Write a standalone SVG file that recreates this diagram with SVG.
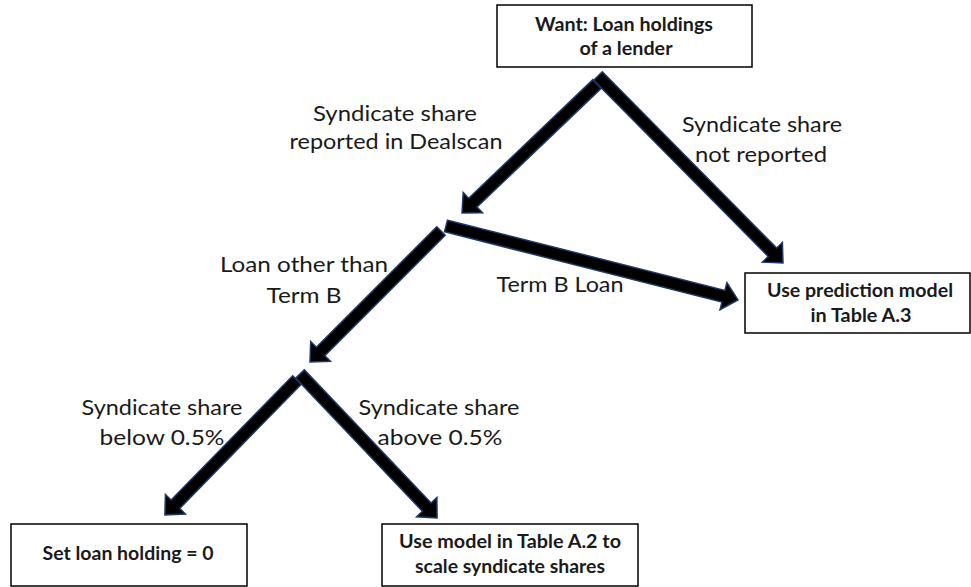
<svg xmlns="http://www.w3.org/2000/svg" width="971" height="587" viewBox="0 0 971 587">
<style>
.box{fill:#fff;stroke:#000;stroke-width:1.5}
.bt{font-family:Lato,"Liberation Sans",sans-serif;font-size:18px;font-weight:bold;fill:#1a1a1a;text-anchor:middle}
.lb{font-family:Lato,"Liberation Sans",sans-serif;font-size:21.5px;fill:#1a1a1a;text-anchor:middle}
.ar{fill:#000;stroke:#1f3a66;stroke-width:1.5;stroke-linejoin:miter}
</style>
<rect width="971" height="587" fill="#fff"/>
<g id="connectors">
  <path class="ar" transform="translate(597,84) rotate(136.3)" d="M0,-6 H171.7 V-14 L186.7,0 L171.7,14 V6 H0 Z"/>
  <path class="ar" transform="translate(598,76) rotate(45.3)" d="M0,-6 H248 V-14 L263,0 L248,14 V6 H0 Z"/>
  <path class="ar" transform="translate(441,231) rotate(135)" d="M0,-6 H170.3 V-14 L185.3,0 L170.3,14 V6 H0 Z"/>
  <path class="ar" transform="translate(446,226) rotate(14.2)" d="M0,-6 H286.2 V-14 L301.2,0 L286.2,14 V6 H0 Z"/>
  <path class="ar" transform="translate(297,380) rotate(134.4)" d="M0,-6 H173.8 V-14 L188.8,0 L173.8,14 V6 H0 Z"/>
  <path class="ar" transform="translate(300,374) rotate(46.4)" d="M0,-6 H183.8 V-14 L198.8,0 L183.8,14 V6 H0 Z"/>
</g>
<g id="labels">
  <text class="lb" x="395" y="121" textLength="164" lengthAdjust="spacingAndGlyphs">Syndicate share</text>
  <text class="lb" x="396" y="149" textLength="213" lengthAdjust="spacingAndGlyphs">reported in Dealscan</text>
  <text class="lb" x="762" y="132" textLength="160" lengthAdjust="spacingAndGlyphs">Syndicate share</text>
  <text class="lb" x="761" y="162" textLength="132" lengthAdjust="spacingAndGlyphs">not reported</text>
  <text class="lb" x="304" y="272" textLength="168" lengthAdjust="spacingAndGlyphs">Loan other than</text>
  <text class="lb" x="304" y="303" textLength="75" lengthAdjust="spacingAndGlyphs">Term B</text>
  <text class="lb" x="560" y="292" textLength="127" lengthAdjust="spacingAndGlyphs">Term B Loan</text>
  <text class="lb" x="162" y="415" textLength="161" lengthAdjust="spacingAndGlyphs">Syndicate share</text>
  <text class="lb" x="162" y="445" textLength="125" lengthAdjust="spacingAndGlyphs">below 0.5%</text>
  <text class="lb" x="439" y="415" textLength="161" lengthAdjust="spacingAndGlyphs">Syndicate share</text>
  <text class="lb" x="440" y="445" textLength="125" lengthAdjust="spacingAndGlyphs">above 0.5%</text>
</g>
<g id="node-want">
  <rect class="box" x="497" y="5" width="255" height="62"/>
  <text class="bt" x="624" y="31" textLength="178" lengthAdjust="spacingAndGlyphs">Want: Loan holdings</text>
  <text class="bt" x="626" y="55" textLength="93" lengthAdjust="spacingAndGlyphs">of a lender</text>
</g>
<g id="node-prediction">
  <rect class="box" x="745" y="273" width="225" height="60"/>
  <text class="bt" x="860" y="297" textLength="186" lengthAdjust="spacingAndGlyphs">Use prediction  model</text>
  <text class="bt" x="861" y="322" textLength="101" lengthAdjust="spacingAndGlyphs">in Table A.3</text>
</g>
<g id="node-zero">
  <rect class="box" x="11" y="524" width="236" height="62"/>
  <text class="bt" x="128" y="560" textLength="171" lengthAdjust="spacingAndGlyphs">Set loan holding = 0</text>
</g>
<g id="node-scale">
  <rect class="box" x="382" y="524" width="256" height="62"/>
  <text class="bt" x="510" y="548" textLength="222" lengthAdjust="spacingAndGlyphs">Use model in Table A.2 to</text>
  <text class="bt" x="510" y="573" textLength="190" lengthAdjust="spacingAndGlyphs">scale syndicate shares</text>
</g>
</svg>
